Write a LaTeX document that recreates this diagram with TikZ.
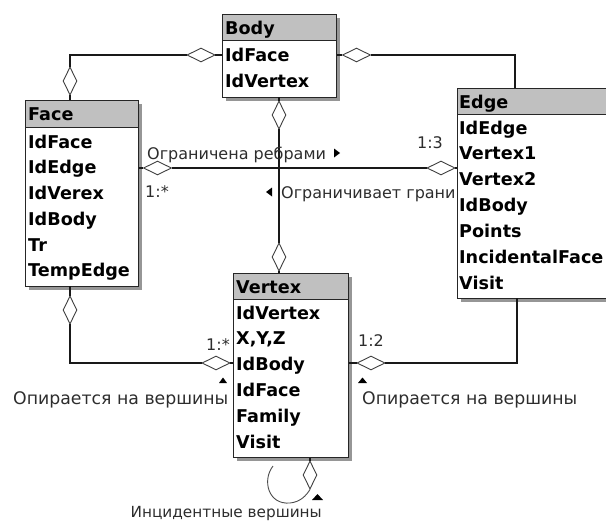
\documentclass[tikz,border=0pt]{standalone}
\usepackage{fontspec}
\setmainfont{DejaVu Sans}
\usetikzlibrary{shapes.geometric,shadows}
\definecolor{hdrgray}{RGB}{192,192,192}
\definecolor{shgray}{RGB}{150,150,150}
\definecolor{lblgray}{RGB}{45,45,45}
\tikzset{
  frame/.style={draw=black!85,line width=1.4pt,fill=white,inner sep=0pt,anchor=north west,
    drop shadow={shadow xshift=3pt,shadow yshift=-3pt,fill=shgray,opacity=1}},
  hdr/.style={draw=black!85,line width=1.4pt,fill=hdrgray,inner sep=0pt,anchor=north west},
  fld/.style={anchor=base west,inner sep=0pt,font=\fontsize{17.6}{18}\selectfont\bfseries},
  lbl/.style={inner sep=0pt,text=lblgray,font=\fontsize{16}{16}\selectfont},
  hdia/.style={diamond,draw=black!75,line width=0.9pt,fill=white,inner sep=0pt,minimum width=28pt,minimum height=14pt},
  vdia/.style={diamond,draw=black!75,line width=0.9pt,fill=white,inner sep=0pt,minimum width=14pt,minimum height=28pt},
  conn/.style={draw=black!90,line width=1.2pt},
  tri/.style={fill=black}
}
\begin{document}
\begin{tikzpicture}[x=1pt,y=-1pt]
\useasboundingbox (0,0) rectangle (606,522);
% ---------- Body
\node[frame,minimum width=114pt,minimum height=83pt] (body) at (222,14) {};
\node[hdr,minimum width=114pt,minimum height=26pt] (bodyh) at (222,14) {};
\node[fld] (bodyt) at (225,34.5) {Body};
\node[fld] (body1) at (225,61.5) {IdFace};
\node[fld] (body2) at (225,87.5) {IdVertex};
% ---------- Face
\node[frame,minimum width=113pt,minimum height=186pt] (face) at (25,100) {};
\node[hdr,minimum width=113pt,minimum height=27pt] (faceh) at (25,100) {};
\node[fld] (facet) at (28,120.5) {Face};
\node[fld] (face1) at (28,148.5) {IdFace};
\node[fld] (face2) at (28,173.5) {IdEdge};
\node[fld] (face3) at (28,199.5) {IdVerex};
\node[fld] (face4) at (28,225.5) {IdBody};
\node[fld] (face5) at (28,251.5) {Tr};
\node[fld] (face6) at (28,276.5) {TempEdge};
% ---------- Edge
\node[frame,minimum width=160pt,minimum height=210pt] (edge) at (457,88) {};
\node[hdr,minimum width=160pt,minimum height=26pt] (edgeh) at (457,88) {};
\node[fld] (edget) at (459,108.5) {Edge};
\node[fld] (edge1) at (459,134.5) {IdEdge};
\node[fld] (edge2) at (459,159.5) {Vertex1};
\node[fld] (edge3) at (459,185.5) {Vertex2};
\node[fld] (edge4) at (459,211.5) {IdBody};
\node[fld] (edge5) at (459,237.5) {Points};
\node[fld] (edge6) at (459,263.5) {IncidentalFace};
\node[fld] (edge7) at (459,289.5) {Visit};
% ---------- Vertex
\node[frame,minimum width=115pt,minimum height=184pt] (vertex) at (233,273) {};
\node[hdr,minimum width=115pt,minimum height=26pt] (vertexh) at (233,273) {};
\node[fld] (vertext) at (236,293.5) {Vertex};
\node[fld] (vertex1) at (236,319.5) {IdVertex};
\node[fld] (vertex2) at (236,344.5) {X,Y,Z};
\node[fld] (vertex3) at (236,370.5) {IdBody};
\node[fld] (vertex4) at (236,396.5) {IdFace};
\node[fld] (vertex5) at (236,422.5) {Family};
\node[fld] (vertex6) at (236,448.5) {Visit};
% ---------- coordinates on box edges
\coordinate (edgetop) at (515,88);
\coordinate (edgebot) at (517,298);
\coordinate (bodybot) at (279,97);
\coordinate (vertextop) at (279,273);
\coordinate (facetop) at (70,100);
\coordinate (facebot) at (70,286);
\coordinate (loopstart) at (273,466);
% ---------- diamonds
\node[hdia] (d1) at (201,55) {};
\node[vdia] (d2) at (70,81) {};
\node[hdia] (d3) at (356.5,55) {};
\node[vdia] (d4) at (279,115) {};
\node[vdia] (d5) at (279,257) {};
\node[hdia] (d6) at (157.5,168) {};
\node[hdia] (d7) at (441,168) {};
\node[vdia] (d8) at (70,310) {};
\node[hdia] (d9) at (216,363) {};
\node[hdia] (d10) at (371,363) {};
\node[vdia] (d11) at (310,475) {};
% ---------- connectors
\draw[conn] (body.west |- d1) -- (d1.east);
\draw[conn] (d1.west) -| (d2.north);
\draw[conn] (d2.south) -- (facetop);
\draw[conn] (body.east |- d3) -- (d3.west);
\draw[conn] (d3.east) -| (edgetop);
\draw[conn] (bodybot) -- (d4.north);
\draw[conn] (d4.south) -- (d5.north);
\draw[conn] (d5.south) -- (vertextop);
\draw[conn] (face.east |- d6) -- (d6.west);
\draw[conn] (d6.east) -- (d7.west);
\draw[conn] (d7.east) -- (edge.west |- d7);
\draw[conn] (facebot) -- (d8.north);
\draw[conn] (d8.south) |- (d9.west);
\draw[conn] (d9.east) -- (vertex.west |- d9);
\draw[conn] (edgebot) |- (d10.east);
\draw[conn] (d10.west) -- (vertex.east |- d10);
\draw[conn] (vertex.south -| d11) -- (d11.north);
\draw[draw=black!70,line width=0.9pt] (loopstart) .. controls (262,480) and (268,505) .. (290,503) .. controls (300,502) and (306,496) .. (d11.south);
% ---------- labels
\node[lbl,anchor=base west] (l1) at (147,159) {Ограничена ребрами};
\fill[tri] (334,148.5) -- (340,153) -- (334,157.5) -- cycle;
\node[lbl,anchor=base west] (l2) at (281,198) {Ограничивает грани};
\fill[tri] (272,187.5) -- (266,192) -- (272,196.5) -- cycle;
\node[lbl,anchor=base] (m1) at (430,148) {1:3};
\node[lbl,anchor=base west] (m2) at (145,197) {1:*};
\node[lbl,anchor=base] (m3) at (218,350) {1:*};
\node[lbl,anchor=base] (m4) at (371,346) {1:2};
\node[lbl,anchor=base west,font=\fontsize{17.3}{17}\selectfont] (l3) at (13,404) {Опирается на вершины};
\fill[tri] (219,383) -- (223,377.5) -- (227,383) -- cycle;
\node[lbl,anchor=base west,font=\fontsize{17.3}{17}\selectfont] (l4) at (362,404) {Опирается на вершины};
\fill[tri] (358,383) -- (362.5,377.5) -- (367,383) -- cycle;
\node[lbl,anchor=base east,font=\fontsize{15.3}{16}\selectfont] (l5) at (322,517) {Инцидентные вершины};
\fill[tri] (312,500) -- (317.5,494) -- (323,500) -- cycle;
\end{tikzpicture}
\end{document}
